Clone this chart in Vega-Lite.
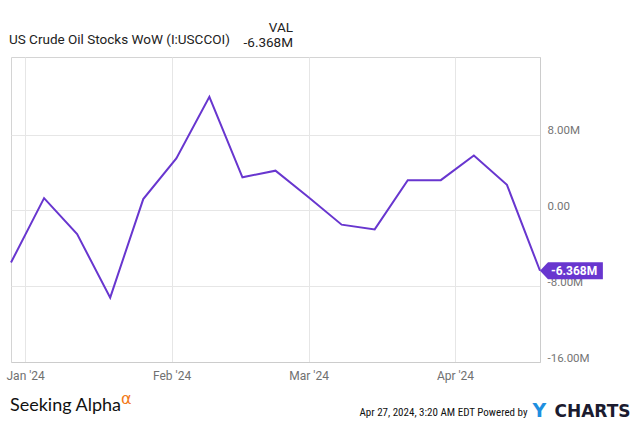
{
  "$schema": "https://vega.github.io/schema/vega-lite/v6.json",
  "width": 529,
  "height": 305,
  "autosize": "none",
  "padding": {"left": 11, "top": 57, "right": 95, "bottom": 62},
  "background": "white",
  "config": {
    "view": {"stroke": "#d4d4d4"},
    "font": "Roboto",
    "locale": {"number": {"decimal": ".", "thousands": ",", "grouping": [3], "currency": ["$", ""], "minus": "-"}}
  },
  "title": {
    "text": "VAL",
    "subtitle": "-6.368M",
    "anchor": "start",
    "align": "right",
    "dx": 282,
    "dy": 27,
    "offset": 10,
    "frame": "group",
    "font": "Roboto",
    "fontSize": 13.5,
    "fontWeight": "normal",
    "color": "#222222",
    "subtitleFont": "Roboto",
    "subtitleFontSize": 13.5,
    "subtitleColor": "#222222",
    "subtitlePadding": 1.5
  },
  "data": {
    "values": [
      {"date": "2023-12-29T00:00:00", "value": -5500000},
      {"date": "2024-01-05T00:00:00", "value": 1300000},
      {"date": "2024-01-12T00:00:00", "value": -2500000},
      {"date": "2024-01-19T00:00:00", "value": -9200000},
      {"date": "2024-01-26T00:00:00", "value": 1200000},
      {"date": "2024-02-02T00:00:00", "value": 5500000},
      {"date": "2024-02-09T00:00:00", "value": 12000000},
      {"date": "2024-02-16T00:00:00", "value": 3500000},
      {"date": "2024-02-23T00:00:00", "value": 4200000},
      {"date": "2024-03-01T00:00:00", "value": 1400000},
      {"date": "2024-03-08T00:00:00", "value": -1500000},
      {"date": "2024-03-15T00:00:00", "value": -2000000},
      {"date": "2024-03-22T00:00:00", "value": 3200000},
      {"date": "2024-03-29T00:00:00", "value": 3200000},
      {"date": "2024-04-05T00:00:00", "value": 5800000},
      {"date": "2024-04-12T00:00:00", "value": 2700000},
      {"date": "2024-04-19T00:00:00", "value": -6368000}
    ]
  },
  "resolve": {"axis": {"x": "independent", "y": "independent"}},
  "layer": [
    {
      "mark": {"type": "line", "strokeWidth": 2},
      "encoding": {
        "x": {
          "field": "date",
          "type": "temporal",
          "scale": {"domain": [{"year": 2023, "month": 12, "date": 29}, {"year": 2024, "month": 4, "date": 19}]},
          "axis": {
            "orient": "bottom",
            "values": [{"year": 2024, "month": 1, "date": 1}, {"year": 2024, "month": 2, "date": 1}, {"year": 2024, "month": 3, "date": 1}, {"year": 2024, "month": 4, "date": 1}],
            "format": "%b '%y",
            "grid": true,
            "gridColor": "#e6e6e6",
            "domainColor": "#cccccc",
            "ticks": false,
            "labelFont": "Roboto",
            "labelFontSize": 12,
            "labelColor": "#707070",
            "labelPadding": 8,
            "title": "Apr 27, 2024, 3:20 AM EDT Powered by",
            "titleFont": "Roboto Condensed, DejaVu Sans Condensed, Liberation Sans Narrow, Roboto",
            "titleFontSize": 11,
            "titleFontWeight": "normal",
            "titleColor": "#111111",
            "titleAlign": "right",
            "titleBaseline": "alphabetic",
            "titleX": 516,
            "titleY": 53
          }
        },
        "y": {
          "field": "value",
          "type": "quantitative",
          "scale": {"domain": [-16000000, 16200000], "nice": false, "zero": false},
          "axis": {
            "orient": "right",
            "values": [-16000000, -8000000, 0, 8000000],
            "labelExpr": "datum.value == 0 ? '0.00' : format(datum.value / 1000000, '.2f') + 'M'",
            "grid": true,
            "gridColor": "#e6e6e6",
            "domainColor": "#cccccc",
            "ticks": false,
            "labelFont": "Roboto",
            "labelFontSize": 11.5,
            "labelColor": "#757575",
            "labelPadding": 7,
            "labelAlign": "left",
            "labelBaseline": "alphabetic",
            "labelOffset": -1,
            "title": "US Crude Oil Stocks WoW (I:USCCOI)",
            "titleFont": "Roboto",
            "titleFontSize": 13.5,
            "titleFontWeight": "normal",
            "titleColor": "#222222",
            "titleAngle": 0,
            "titleAlign": "left",
            "titleBaseline": "alphabetic",
            "titleX": -531.5,
            "titleY": -13.5
          }
        },
        "stroke": {
          "datum": "US Crude Oil Stocks WoW (I:USCCOI)",
          "scale": {"range": ["#6836cf"]},
          "legend": {
            "orient": "none",
            "legendX": -1,
            "legendY": 340,
            "padding": 0,
            "title": "Seeking Alpha",
            "titleFont": "Lato",
            "titleFontSize": 18,
            "titleFontWeight": "normal",
            "titleColor": "#111111",
            "titleBaseline": "top",
            "titlePadding": -24,
            "symbolSize": 0,
            "symbolOpacity": 0,
            "symbolStrokeWidth": 0,
            "labelExpr": "'α'",
            "labelFont": "DejaVu Sans",
            "labelFontSize": 16,
            "labelColor": "#f27a1a",
            "labelOffset": 95
          }
        }
      }
    },
    {
      "transform": [{"filter": {"field": "date", "timeUnit": "yearmonthdate", "equal": {"year": 2024, "month": 4, "date": 19}}}],
      "mark": {"type": "point", "shape": "M0,0L0.94,-1L7.4,-1L7.4,1L0.94,1Z", "size": 289, "filled": true, "fill": "#6836cf", "opacity": 1, "strokeWidth": 0},
      "encoding": {
        "x": {
          "field": "date",
          "type": "temporal",
          "axis": {
            "orient": "top",
            "labels": false,
            "ticks": false,
            "domain": false,
            "grid": false,
            "title": "CHARTS",
            "titleFont": "DejaVu Sans",
            "titleFontWeight": "bold",
            "titleFontSize": 17,
            "titleColor": "#1b1b2f",
            "titleAlign": "left",
            "titleBaseline": "alphabetic",
            "titleX": 543,
            "titleY": 359.7
          }
        },
        "y": {
          "field": "value",
          "type": "quantitative",
          "axis": {
            "orient": "left",
            "labels": false,
            "ticks": false,
            "domain": false,
            "grid": false,
            "title": "Y",
            "titleFont": "DejaVu Sans",
            "titleFontWeight": "bold",
            "titleFontSize": 19,
            "titleColor": "#1e8fe0",
            "titleAngle": 0,
            "titleAlign": "left",
            "titleBaseline": "alphabetic",
            "titleX": 521,
            "titleY": 359.7
          }
        }
      }
    },
    {
      "transform": [{"filter": {"field": "date", "timeUnit": "yearmonthdate", "equal": {"year": 2024, "month": 4, "date": 19}}}],
      "mark": {"type": "text", "align": "left", "dx": 11, "baseline": "middle", "font": "Roboto", "fontWeight": "bold", "fontSize": 12, "color": "white"},
      "encoding": {
        "x": {"field": "date", "type": "temporal", "axis": null},
        "y": {"field": "value", "type": "quantitative", "axis": null},
        "text": {"field": "value", "type": "quantitative", "format": ".4s"}
      }
    }
  ]
}
